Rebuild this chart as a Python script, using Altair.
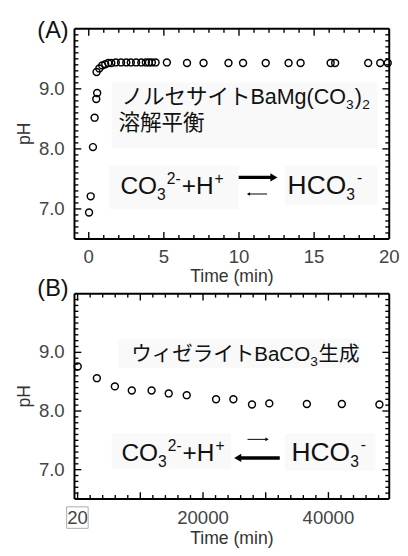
import altair as alt
import pandas as pd

FONT = "Liberation Sans, Arial, Noto Sans CJK JP, sans-serif"

# ---------------- data ----------------
A_TIME = [0.02, 0.13, 0.28, 0.39, 0.50, 0.56, 0.52, 0.70, 0.90, 1.10, 1.30, 1.50, 1.80,
          2.15, 2.50, 2.80, 3.15, 3.50, 3.80, 4.00, 4.20, 4.45, 5.20, 6.54, 7.64, 9.30,
          10.27, 11.78, 13.30, 14.10, 16.10, 16.40, 18.60, 19.40, 19.90]
A_PH = [6.94, 7.21, 8.03, 8.52, 8.83, 8.93, 9.28, 9.34, 9.39, 9.41, 9.43, 9.43, 9.44,
        9.44, 9.44, 9.44, 9.44, 9.44, 9.44, 9.44, 9.44, 9.44, 9.44, 9.43, 9.43, 9.43,
        9.43, 9.43, 9.43, 9.43, 9.43, 9.43, 9.43, 9.43, 9.43]

B_TIME = [20, 3070, 5940, 8640, 11800, 14530, 17400, 22080, 24840, 27810, 30570,
          36560, 42140, 48130]
B_PH = [8.76, 8.56, 8.42, 8.35, 8.35, 8.30, 8.27, 8.20, 8.20, 8.11, 8.13, 8.12, 8.12, 8.11]

A_XLABELS = [0, 5, 10, 15, 20]
A_XTEXT = ["0", "5", "10", "15", "20"]
B_XLABELS = [0, 20000, 40000]
B_XTEXT = ["20", "20000", "40000"]
Y_LABELS = [7, 8, 9]
Y_TEXT = ["7.0", "8.0", "9.0"]

A_XMAJ = [0, 5, 10, 15, 20]
A_XMIN = [v for v in range(1, 20) if v % 5 != 0]
B_XMAJ = [0, 10000, 20000, 30000, 40000]
B_XMIN = [v for v in range(2000, 50000, 2000) if v % 10000 != 0]
Y_MAJ = [7, 8, 9]
Y_MIN = [round(6.5 + 0.1 * i, 1) for i in range(1, 35) if i % 10 != 5]

TXT_A1 = "ノルセサイトBaMg(CO"
TXT_A2 = "溶解平衡"
TXT_B1a = "ウィゼライトBaCO"
TXT_B1b = "生成"
X_TITLE = "Time (min)"
Y_TITLE = "pH"

# ---------------- layout (pixels, one layered canvas for both panels) ----------------
W = 322
HA = 215
GAP = 56
HB = 210
TOPB = HA + GAP
HT = TOPB + HB
YDOM = [6.5, 10.0]
BOXFILL = "#f9f9f9"


def one():
    return pd.DataFrame({"k": [0]})


def vrule(x, y1, y2, w=1.0, color="black"):
    return alt.Chart(one()).mark_rule(color=color, strokeWidth=w).encode(
        x=alt.value(x), y=alt.value(y1), y2=alt.value(y2))


def hline(x1, x2, y, w, color="black"):
    return alt.Chart(one()).mark_rule(color=color, strokeWidth=w).encode(
        x=alt.value(x1), x2=alt.value(x2), y=alt.value(y))


def txt(s, x, y, size, align="left", baseline="alphabetic", color="#111", angle=0):
    return alt.Chart(pd.DataFrame({"label": [s]})).mark_text(
        align=align, baseline=baseline, fontSize=size, font=FONT, color=color, angle=angle
    ).encode(x=alt.value(x), y=alt.value(y), text="label:N")


def head(x, y, shape, size):
    return alt.Chart(one()).mark_point(
        shape=shape, filled=True, color="black", size=size, opacity=1
    ).encode(x=alt.value(x), y=alt.value(y))


def box(x1, x2, y1, y2, fill=BOXFILL, stroke=None, sw=1):
    kw = dict(fill=fill, opacity=1)
    if stroke:
        kw = dict(fill=fill, stroke=stroke, strokeWidth=sw, fillOpacity=0)
    return alt.Chart(one()).mark_rect(**kw).encode(
        x=alt.value(x1), x2=alt.value(x2), y=alt.value(y1), y2=alt.value(y2))


def panel(times, phs, xdom, xlabels, xtext, xmaj, xmin, top, H, lab_dy, title_dy):
    xs = alt.Scale(domain=xdom, range=[0, W], nice=False, zero=False)
    ys = alt.Scale(domain=YDOM, range=[top + H, top], nice=False, zero=False)

    def X():
        return alt.X("t:Q", scale=xs, axis=None)

    def Y():
        return alt.Y("ph:Q", scale=ys, axis=None)

    pts = alt.Chart(pd.DataFrame({"t": times, "ph": phs})).mark_point(
        shape="circle", filled=False, stroke="black", strokeWidth=1.5, size=50, opacity=1
    ).encode(x=X(), y=Y())

    # tick labels and axis titles (drawn as text through the panel's scales)
    labels = [
        alt.Chart(pd.DataFrame({"t": xlabels, "lab": xtext})).mark_text(
            align="center", baseline="top", fontSize=19, font=FONT, color="#444"
        ).encode(x=X(), y=alt.value(top + H + lab_dy), text="lab:N"),
        alt.Chart(pd.DataFrame({"ph": Y_LABELS, "lab": Y_TEXT})).mark_text(
            align="right", baseline="middle", fontSize=19, font=FONT, color="#444"
        ).encode(y=Y(), x=alt.value(-10), text="lab:N"),
        txt(X_TITLE, W / 2, top + H + title_dy, 18, align="center", baseline="top",
            color="#333"),
        txt(Y_TITLE, -51, top + H / 2, 18, align="center", baseline="middle",
            color="#333", angle=270),
    ]

    def tickmarks(df, path, ln):
        return alt.Chart(df).mark_point(
            shape=path, filled=False, stroke="black", strokeWidth=1.4,
            size=(2 * ln) ** 2, opacity=1).encode(x=X(), y=Y())

    ticks = []
    for vals, ln in ((xmaj, 7), (xmin, 4)):
        ticks.append(tickmarks(pd.DataFrame({"t": vals, "ph": [YDOM[0]] * len(vals)}),
                               "M0,0L0,-1", ln))
        ticks.append(tickmarks(pd.DataFrame({"t": vals, "ph": [YDOM[1]] * len(vals)}),
                               "M0,0L0,1", ln))
    for vals, ln in ((Y_MAJ, 7), (Y_MIN, 4)):
        ticks.append(tickmarks(pd.DataFrame({"ph": vals, "t": [xdom[0]] * len(vals)}),
                               "M0,0L1,0", ln))
        ticks.append(tickmarks(pd.DataFrame({"ph": vals, "t": [xdom[1]] * len(vals)}),
                               "M0,0L-1,0", ln))
    frame = [hline(0, W, top, 2), hline(0, W, top + H, 2),
             vrule(0, top, top + H, 2), vrule(W, top, top + H, 2)]
    return pts, labels, ticks + frame


def equation(x0, yb, fl, fr, xr):
    """CO3^2- + H+  <=>  HCO3-  built from pieces (Arial metrics)."""
    s = 16
    out = []
    x = x0
    out.append(txt("CO", x, yb, fl)); x += 1.5 * fl
    out.append(txt("3", x, yb + 6, s)); x += 0.556 * s + 1
    out.append(txt("2-", x, yb - 10, s)); x += 0.889 * s + 1
    out.append(txt("+H", x, yb, fl)); x += 1.306 * fl + 1
    out.append(txt("+", x, yb - 10, s))
    x = xr
    out.append(txt("HCO", x, yb, fr)); x += 2.222 * fr
    out.append(txt("3", x, yb + 6, s)); x += 0.556 * s + 2
    out.append(txt("-", x, yb - 11, s))
    return out


# ---------------- panel A ----------------
pa, laba, fra = panel(A_TIME, A_PH, [-0.95, 20], A_XLABELS, A_XTEXT, A_XMAJ, A_XMIN,
                      0, HA, 10, 30)
fa = 22
xa3 = 48 + 10.445 * fa
la = [
    box(38, 310, 55, 122),
    box(35, 168, 140, 184),
    box(215, 310, 140, 180),
    pa,
] + laba + [
    txt("(A)", -22, 2, 24, align="center", baseline="middle", color="#111"),
    txt(TXT_A1, 48, 77, fa),
    txt("3", xa3, 82, 14),
    txt(")", xa3 + 9, 77, fa),
    txt("2", xa3 + 9 + 7.5, 82, 14),
    txt(TXT_A2, 45, 104, fa),
] + equation(47, 169, 25, 27, 218) + [
    hline(168, 203, 152, 3.5),
    head(204, 152, "triangle-right", 70),
    hline(178, 197, 169, 1),
    head(178, 169, "triangle-left", 14),
]

# ---------------- panel B ----------------
pb, labb, frb = panel(B_TIME, B_PH, [-500, 49700], B_XLABELS, B_XTEXT, B_XMAJ, B_XMIN,
                      TOPB, HB, 11, 32)
fb = 21
xb3 = 58 + 6 * fb + 2.723 * fb
T = TOPB
lb = [
    box(45, 292, T + 46, T + 76),
    box(38, 160, T + 143, T + 179),
    box(215, 308, T + 143, T + 181),
    pb,
] + labb + [
    txt("(B)", -22, T - 5, 24, align="center", baseline="middle", color="#111"),
    txt(TXT_B1a, 58, T + 69, fb),
    txt("3", xb3, T + 74, 14),
    txt(TXT_B1b, xb3 + 8.5, T + 69, fb),
] + equation(48, T + 171, 25, 27, 222) + [
    hline(177, 197, T + 149, 1),
    head(197, T + 149, "triangle-right", 14),
    hline(169, 210, T + 168, 3.5),
    head(167, T + 168, "triangle-left", 70),
    box(-8, 14, T + HB + 8, T + HB + 30, fill="white", stroke="#aaa"),
]

chart = alt.layer(*(la + lb + fra + frb)).resolve_scale(
    x="independent", y="independent"
).properties(
    width=W, height=HT,
    padding={"left": 8, "top": 5, "right": 0, "bottom": 0}
).configure_view(stroke="transparent")

chart.save("out.html", embed_options={"renderer": "svg", "actions": False})
